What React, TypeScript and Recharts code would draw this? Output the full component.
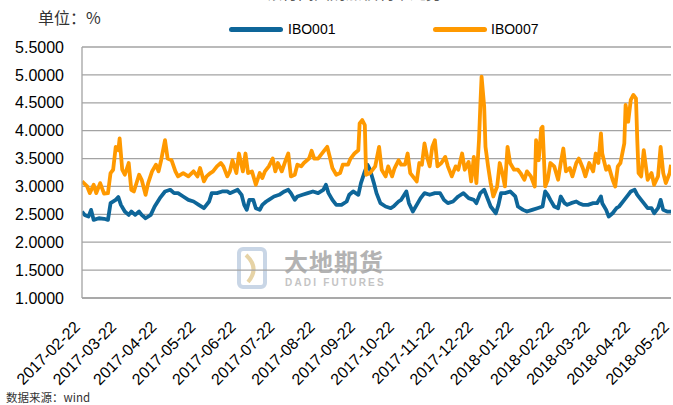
import React from "react"
import { LineChart, Line, XAxis, YAxis, CartesianGrid } from "recharts"

// days counted from 2017-02-22
const ibo001Days = [
  0, 2, 5, 7, 9, 13, 17, 20, 22, 26, 28, 30, 33, 36, 38, 41, 44, 46, 49, 53, 56, 60, 64, 68, 71, 74, 78, 82, 86, 90, 94,
  98, 100, 104, 108, 112, 114, 117, 120, 123, 125, 127, 129, 132, 134, 137, 139, 142, 144, 148, 152, 156, 159, 161, 164,
  166, 170, 174, 178, 182, 186, 188, 190, 193, 196, 200, 204, 206, 209, 213, 215, 218, 220, 222, 225, 227, 230, 234, 238,
  240, 244, 246, 250, 252, 255, 258, 261, 264, 268, 272, 276, 279, 282, 286, 290, 294, 298, 302, 304, 307, 310, 312, 315,
  319, 321, 323, 326, 330, 334, 336, 340, 343, 347, 351, 355, 357, 359, 361, 364, 367, 369, 372, 374, 377, 381, 383, 386,
  390, 394, 397, 400, 401, 404, 406, 409, 412, 414, 418, 421, 423, 426, 428, 431, 433, 436, 439, 441, 444, 446, 448, 451,
  454,
]
const ibo001 = [
  2.55, 2.49, 2.46, 2.58, 2.4, 2.43, 2.42, 2.4, 2.7, 2.76, 2.81, 2.67, 2.55, 2.49, 2.55, 2.49, 2.55, 2.49, 2.43, 2.49, 2.64,
  2.79, 2.91, 2.94, 2.88, 2.88, 2.82, 2.76, 2.73, 2.67, 2.61, 2.73, 2.88, 2.88, 2.91, 2.91, 2.88, 2.91, 2.94, 2.85, 2.67,
  2.58, 2.76, 2.76, 2.61, 2.58, 2.67, 2.73, 2.76, 2.82, 2.85, 2.91, 2.94, 2.88, 2.76, 2.82, 2.85, 2.88, 2.91, 2.88, 2.94,
  3.03, 2.88, 2.76, 2.67, 2.67, 2.73, 2.85, 2.91, 2.85, 3.06, 3.27, 3.39, 3.3, 3.06, 2.88, 2.7, 2.64, 2.61, 2.64, 2.73,
  2.76, 2.91, 2.7, 2.55, 2.67, 2.79, 2.88, 2.85, 2.88, 2.88, 2.76, 2.7, 2.73, 2.82, 2.88, 2.79, 2.76, 2.7, 2.88, 2.94,
  2.82, 2.64, 2.52, 2.67, 2.88, 2.88, 2.91, 2.82, 2.64, 2.58, 2.55, 2.58, 2.61, 2.64, 2.91, 2.85, 2.76, 2.64, 2.61, 2.82,
  2.7, 2.67, 2.7, 2.73, 2.7, 2.67, 2.67, 2.7, 2.7, 2.82, 2.7, 2.58, 2.46, 2.52, 2.61, 2.64, 2.76, 2.85, 2.91, 2.94, 2.85,
  2.76, 2.7, 2.61, 2.61, 2.52, 2.61, 2.76, 2.58, 2.55, 2.55,
]

const ibo007Days = [
  0, 4, 6, 9, 11, 14, 17, 20, 22, 24, 26, 28, 29, 31, 33, 36, 38, 40, 44, 46, 49, 51, 54, 57, 59, 61, 64, 66, 69, 72, 74,
  78, 82, 86, 89, 91, 94, 96, 99, 101, 104, 107, 109, 112, 114, 116, 119, 121, 124, 126, 128, 131, 134, 137, 139, 141, 144,
  147, 149, 151, 154, 157, 159, 161, 164, 166, 169, 171, 175, 177, 179, 182, 184, 187, 189, 191, 193, 196, 199, 201, 205,
  207, 210, 213, 214, 216, 218, 219, 222, 226, 229, 231, 234, 236, 239, 241, 244, 246, 249, 251, 253, 255, 258, 260, 262,
  264, 266, 268, 270, 272, 274, 277, 280, 282, 285, 288, 290, 293, 295, 298, 300, 302, 304, 306, 307, 308, 310, 311, 313,
  315, 317, 320, 322, 324, 326, 328, 330, 333, 336, 338, 341, 343, 346, 349, 350, 352, 354, 355, 357, 359, 361, 364, 367,
  369, 371, 373, 376, 378, 381, 383, 386, 388, 391, 394, 396, 398, 400, 401, 404, 406, 409, 411, 413, 415, 418, 419, 421,
  423, 425, 427, 428, 429, 431, 433, 436, 439, 441, 444, 446, 448, 450, 453, 454,
]
const ibo007 = [
  3.09, 3.0, 2.88, 3.03, 2.88, 3.06, 2.87, 2.88, 3.24, 3.3, 3.71, 3.65, 3.86, 3.3, 3.21, 3.42, 2.94, 2.91, 3.21, 3.12,
  2.85, 3.06, 3.27, 3.39, 3.27, 3.47, 3.83, 3.5, 3.47, 3.27, 3.18, 3.24, 3.18, 3.27, 3.18, 3.33, 3.09, 3.18, 3.24, 3.27,
  3.36, 3.42, 3.36, 3.18, 3.27, 3.47, 3.24, 3.59, 3.27, 3.59, 3.24, 3.27, 3.03, 3.24, 3.15, 3.27, 3.36, 3.5, 3.27, 3.42,
  3.27, 3.47, 3.59, 3.18, 3.21, 3.39, 3.36, 3.42, 3.5, 3.64, 3.5, 3.5, 3.56, 3.65, 3.71, 3.53, 3.33, 3.21, 3.24, 3.39,
  3.39, 3.5, 3.59, 3.65, 4.13, 4.19, 4.1, 3.21, 3.24, 3.36, 3.71, 3.3, 3.18, 3.36, 3.18, 3.33, 3.47, 3.39, 3.39, 3.59,
  3.24, 3.18, 3.09, 3.42, 3.39, 3.77, 3.53, 3.36, 3.71, 3.83, 3.36, 3.42, 3.53, 3.36, 3.18, 3.36, 3.3, 3.59, 3.3, 3.44,
  3.09, 3.53, 3.06, 3.83, 4.43, 4.97, 4.43, 3.71, 3.36, 3.06, 2.82, 3.0, 3.42, 3.24, 3.0, 3.71, 3.42, 3.3, 3.3, 3.24,
  3.12, 3.27, 3.18, 3.0, 3.83, 3.47, 4.04, 4.07, 3.0, 3.12, 3.42, 3.36, 3.12, 3.42, 3.68, 3.27, 3.33, 3.18, 3.42, 3.5,
  3.33, 3.18, 3.42, 3.27, 3.59, 3.42, 3.95, 3.59, 3.3, 3.36, 3.12, 3.0, 3.36, 3.42, 3.77, 4.46, 4.16, 4.55, 4.64, 4.58,
  3.83, 3.24, 3.18, 3.65, 3.12, 3.24, 3.03, 3.18, 3.71, 3.24, 3.06, 3.24, 3.39,
]

const tickDates = [
  "2017-02-22", "2017-03-22", "2017-04-22", "2017-05-22", "2017-06-22", "2017-07-22", "2017-08-22", "2017-09-22",
  "2017-10-22", "2017-11-22", "2017-12-22", "2018-01-22", "2018-02-22", "2018-03-22", "2018-04-22", "2018-05-22",
]
const yTicks = [1.0, 1.5, 2.0, 2.5, 3.0, 3.5, 4.0, 4.5, 5.0, 5.5]

const BLUE = "#0E6699"
const ORANGE = "#FF9900"
const start = Date.parse(tickDates[0])
const toDay = (d: string) => Math.round((Date.parse(d) - start) / 86400000)
const tickDays = tickDates.map(toDay)

const ibo001Data = ibo001Days.map((day, i) => ({ day, value: ibo001[i] }))
const ibo007Data = ibo007Days.map((day, i) => ({ day, value: ibo007[i] }))

const DateTick = (props: any) => {
  const { x, y, payload } = props
  const label = tickDates[tickDays.indexOf(payload.value)] ?? ""
  const ax = x - 1
  const ay = y + 30
  return (
    <text x={ax} y={ay} textAnchor="end" fontSize={16} fill="#000" transform={`rotate(-45, ${ax}, ${ay})`}>
      {label}
    </text>
  )
}

function Watermark() {
  return (
    <div style={{ position: "absolute", left: 236, top: 246, width: 170, height: 48 }}>
      <svg width={32} height={44} style={{ position: "absolute", left: 0, top: 0 }}>
        <rect x={3} y={3} width={26} height={38} rx={4} fill="none" stroke="#C9D6E6" strokeWidth={4} />
        <path d="M10 9 Q24 22 12 36" fill="none" stroke="#E6D3A6" strokeWidth={4} />
      </svg>
      <div
        style={{
          position: "absolute",
          left: 48,
          top: 2,
          fontFamily: "Noto Sans CJK SC",
          fontWeight: 700,
          fontSize: 24,
          lineHeight: "26px",
          color: "#B3B3B3",
          letterSpacing: 1,
        }}
      >
        大地期货
      </div>
      <div
        style={{
          position: "absolute",
          left: 49,
          top: 31,
          fontFamily: "Liberation Sans",
          fontWeight: 700,
          fontSize: 10,
          color: "#C4C4C4",
          letterSpacing: 2.2,
        }}
      >
        DADI FUTURES
      </div>
    </div>
  )
}

export default function App() {
  return (
    <div
      style={{
        position: "absolute",
        left: 0,
        top: 0,
        width: 673,
        height: 405,
        overflow: "hidden",
        background: "#fff",
        fontFamily: "Liberation Sans",
      }}
    >
      {/* title sits mostly above the picture's top edge, as in the source image */}
      <div
        style={{
          position: "absolute",
          left: 266,
          top: -18,
          fontFamily: "Noto Sans CJK SC",
          fontSize: 16,
          lineHeight: "20px",
          color: "#595959",
          whiteSpace: "nowrap",
        }}
      >
        银行间回购加权利率走势
      </div>
      <div
        style={{ position: "absolute", left: 38, top: 5, fontFamily: "Noto Sans CJK SC", fontSize: 16, color: "#333" }}
      >
        单位：%
      </div>

      {/* legend */}
      <div style={{ position: "absolute", left: 229, top: 21, display: "flex", alignItems: "center", fontSize: 14 }}>
        <div style={{ width: 54, height: 5, borderRadius: 3, background: BLUE, marginRight: 5 }} />
        <span>IBO001</span>
      </div>
      <div style={{ position: "absolute", left: 433, top: 21, display: "flex", alignItems: "center", fontSize: 14 }}>
        <div style={{ width: 54, height: 5, borderRadius: 3, background: ORANGE, marginRight: 4 }} />
        <span>IBO007</span>
      </div>

      <Watermark />

      <div style={{ position: "absolute", left: 0, top: 0 }}>
        <LineChart width={673} height={405} margin={{ top: 47, right: 2, left: 0, bottom: 0 }}>
          <CartesianGrid vertical={false} stroke="#A3A3A3" strokeWidth={1.3} />
          <XAxis
            type="number"
            dataKey="day"
            domain={[0, 454]}
            ticks={tickDays}
            interval={0}
            height={107}
            tickLine={false}
            tickSize={0}
            tickMargin={0}
            axisLine={{ stroke: "#A3A3A3", strokeWidth: 1.3 }}
            tick={<DateTick />}
            allowDataOverflow
          />
          <YAxis
            type="number"
            domain={[1, 5.5]}
            ticks={yTicks}
            interval={0}
            width={82}
            tickLine={false}
            tickSize={0}
            tickMargin={18}
            axisLine={{ stroke: "#A3A3A3", strokeWidth: 1.3 }}
            tick={{ fontSize: 16, fill: "#000" }}
            tickFormatter={(v: number) => v.toFixed(4)}
          />
          <Line
            data={ibo001Data}
            dataKey="value"
            type="linear"
            stroke={BLUE}
            strokeWidth={3.8}
            strokeLinejoin="round"
            dot={false}
            isAnimationActive={false}
          />
          <Line
            data={ibo007Data}
            dataKey="value"
            type="linear"
            stroke={ORANGE}
            strokeWidth={3.8}
            strokeLinejoin="round"
            dot={false}
            isAnimationActive={false}
          />
        </LineChart>
      </div>

      <div
        style={{ position: "absolute", left: 6, top: 389, fontFamily: "Noto Sans CJK SC", fontSize: 11.5, color: "#333" }}
      >
        数据来源：wind
      </div>
    </div>
  )
}
